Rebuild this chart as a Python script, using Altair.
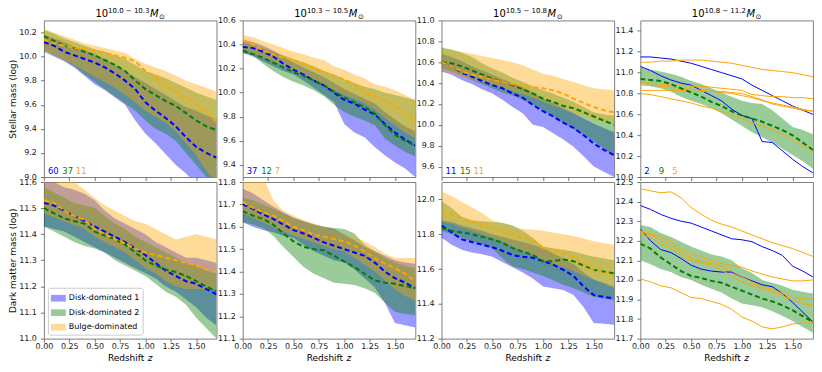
import altair as alt
import pandas as pd

FONT = "DejaVu Sans"
W, H = 173, 157

Z = [0.0, 0.1, 0.2, 0.3, 0.4, 0.5, 0.6, 0.7, 0.8, 0.9, 1.0, 1.1, 1.2, 1.3, 1.4, 1.5, 1.6, 1.7]
GROUPS = ["Disk-dominated 1", "Disk-dominated 2", "Bulge-dominated"]
COLORS = ["#0000ff", "#008000", "#ffa500"]
X_TICKS = [0.0, 0.25, 0.5, 0.75, 1.0, 1.25, 1.5]
MASS_BINS = ["10.0 − 10.3", "10.3 − 10.5", "10.5 − 10.8", "10.8 − 11.2"]
COUNTS = [[60, 37, 11], [37, 12, 7], [11, 15, 11], [2, 9, 5]]
ROW_TITLES = ["Stellar mass (log)", "Dark matter mass (log)"]
Y_DOMAINS = [[9.0, 10.3], [9.3, 10.6], [9.5, 11.0], [10.0, 11.5],
             [11.0, 11.6], [11.1, 11.8], [11.2, 12.1], [11.7, 12.5]]
Y_TICKS = [
    [9.0, 9.2, 9.4, 9.6, 9.8, 10.0, 10.2],
    [9.4, 9.6, 9.8, 10.0, 10.2, 10.4, 10.6],
    [9.6, 9.8, 10.0, 10.2, 10.4, 10.6, 10.8, 11.0],
    [10.0, 10.2, 10.4, 10.6, 10.8, 11.0, 11.2, 11.4],
    [11.0, 11.1, 11.2, 11.3, 11.4, 11.5, 11.6],
    [11.1, 11.2, 11.3, 11.4, 11.5, 11.6, 11.7, 11.8],
    [11.2, 11.4, 11.6, 11.8, 12.0],
    [11.7, 11.8, 11.9, 12.0, 12.1, 12.2, 12.3, 12.4, 12.5],
]

# ---------------- Panel 1: stellar mass, 10^10.0-10.3 ----------------
P1_D1_MED = [10.12, 10.09, 10.04, 10.01, 9.98, 9.95, 9.91, 9.86, 9.80, 9.73, 9.62, 9.55, 9.49, 9.42, 9.33, 9.25, 9.20, 9.16]
P1_D1_LO = [10.04, 10.00, 9.96, 9.91, 9.84, 9.77, 9.72, 9.66, 9.60, 9.47, 9.36, 9.28, 9.19, 9.10, 9.03, 8.94, 8.85, 8.75]
P1_D1_HI = [10.18, 10.15, 10.12, 10.08, 10.05, 10.02, 9.98, 9.93, 9.88, 9.83, 9.78, 9.73, 9.68, 9.63, 9.58, 9.55, 9.51, 9.48]
P1_D2_MED = [10.17, 10.13, 10.09, 10.07, 10.04, 10.01, 9.97, 9.93, 9.88, 9.80, 9.73, 9.68, 9.63, 9.59, 9.53, 9.47, 9.42, 9.39]
P1_D2_LO = [10.06, 10.01, 9.97, 9.92, 9.85, 9.79, 9.73, 9.67, 9.61, 9.55, 9.47, 9.40, 9.36, 9.30, 9.20, 9.10, 9.00, 8.95]
P1_D2_HI = [10.22, 10.19, 10.15, 10.12, 10.09, 10.06, 10.04, 10.01, 9.98, 9.93, 9.88, 9.85, 9.82, 9.78, 9.74, 9.70, 9.67, 9.64]
P1_BD_MED = [10.14, 10.11, 10.09, 10.07, 10.06, 10.05, 10.03, 10.01, 9.99, 9.96, 9.88, 9.83, 9.75, 9.71, 9.66, 9.61, 9.53, 9.46]
P1_BD_LO = [10.05, 10.01, 9.97, 9.93, 9.88, 9.83, 9.79, 9.74, 9.68, 9.62, 9.55, 9.50, 9.45, 9.38, 9.28, 9.18, 9.05, 8.95]
P1_BD_HI = [10.23, 10.20, 10.17, 10.14, 10.11, 10.09, 10.07, 10.05, 10.03, 9.98, 9.94, 9.91, 9.88, 9.84, 9.80, 9.77, 9.74, 9.71]

# ---------------- Panel 2: stellar mass, 10^10.3-10.5 ----------------
P2_D1_MED = [10.38, 10.37, 10.34, 10.30, 10.24, 10.19, 10.15, 10.10, 10.06, 10.00, 9.94, 9.91, 9.86, 9.82, 9.74, 9.67, 9.61, 9.56]
P2_D1_LO = [10.33, 10.30, 10.26, 10.22, 10.18, 10.15, 10.10, 10.04, 9.98, 9.92, 9.74, 9.67, 9.63, 9.55, 9.48, 9.42, 9.37, 9.30]
P2_D1_HI = [10.44, 10.42, 10.39, 10.35, 10.30, 10.25, 10.21, 10.17, 10.13, 10.08, 10.03, 9.99, 9.95, 9.91, 9.84, 9.78, 9.72, 9.68]
P2_D2_MED = [10.35, 10.32, 10.29, 10.25, 10.21, 10.17, 10.14, 10.10, 10.06, 10.01, 9.96, 9.92, 9.88, 9.83, 9.73, 9.65, 9.60, 9.56]
P2_D2_LO = [10.33, 10.31, 10.24, 10.18, 10.13, 10.09, 10.06, 10.02, 9.97, 9.90, 9.84, 9.80, 9.77, 9.73, 9.62, 9.56, 9.51, 9.47]
P2_D2_HI = [10.42, 10.40, 10.37, 10.34, 10.31, 10.28, 10.25, 10.22, 10.18, 10.15, 10.11, 10.08, 10.05, 10.03, 10.00, 9.98, 9.96, 9.94]
P2_BD_MED = [10.44, 10.40, 10.35, 10.32, 10.29, 10.27, 10.24, 10.20, 10.17, 10.14, 10.11, 10.07, 10.00, 9.97, 9.93, 9.89, 9.83, 9.76]
P2_BD_LO = [10.36, 10.33, 10.29, 10.26, 10.22, 10.18, 10.14, 10.10, 10.06, 10.02, 9.98, 9.95, 9.91, 9.86, 9.79, 9.73, 9.67, 9.62]
P2_BD_HI = [10.48, 10.46, 10.43, 10.40, 10.37, 10.34, 10.32, 10.29, 10.27, 10.22, 10.19, 10.15, 10.12, 10.07, 10.05, 10.02, 9.98, 9.94]

# ---------------- Panel 3: stellar mass, 10^10.5-10.8 ----------------
P3_D1_MED = [10.60, 10.56, 10.50, 10.46, 10.42, 10.38, 10.35, 10.30, 10.26, 10.19, 10.13, 10.08, 10.02, 9.97, 9.90, 9.82, 9.76, 9.71]
P3_D1_LO = [10.51, 10.48, 10.43, 10.39, 10.34, 10.30, 10.24, 10.17, 10.11, 10.00, 9.98, 9.92, 9.86, 9.79, 9.70, 9.60, 9.55, 9.50]
P3_D1_HI = [10.68, 10.65, 10.61, 10.56, 10.52, 10.48, 10.44, 10.40, 10.36, 10.31, 10.25, 10.21, 10.16, 10.11, 10.06, 10.01, 9.97, 9.93]
P3_D2_MED = [10.60, 10.59, 10.56, 10.52, 10.48, 10.44, 10.41, 10.38, 10.34, 10.30, 10.25, 10.22, 10.18, 10.16, 10.12, 10.08, 10.04, 10.00]
P3_D2_LO = [10.54, 10.51, 10.47, 10.43, 10.39, 10.35, 10.31, 10.28, 10.24, 10.19, 10.14, 10.08, 10.02, 9.96, 9.90, 9.84, 9.77, 9.70]
P3_D2_HI = [10.74, 10.72, 10.69, 10.65, 10.59, 10.54, 10.50, 10.45, 10.41, 10.37, 10.33, 10.30, 10.26, 10.22, 10.17, 10.12, 10.10, 10.09]
P3_BD_MED = [10.60, 10.56, 10.51, 10.48, 10.46, 10.43, 10.41, 10.39, 10.37, 10.36, 10.35, 10.33, 10.30, 10.25, 10.21, 10.17, 10.14, 10.12]
P3_BD_LO = [10.52, 10.49, 10.46, 10.43, 10.41, 10.38, 10.35, 10.32, 10.29, 10.26, 10.22, 10.18, 10.15, 10.11, 10.08, 10.05, 10.02, 10.00]
P3_BD_HI = [10.73, 10.72, 10.70, 10.68, 10.66, 10.64, 10.62, 10.60, 10.57, 10.53, 10.49, 10.47, 10.44, 10.41, 10.38, 10.35, 10.34, 10.33]

# ---------------- Panel 4: stellar mass, 10^10.8-11.2 ----------------
P4_D2_MED = [10.94, 10.93, 10.92, 10.89, 10.85, 10.81, 10.77, 10.72, 10.68, 10.63, 10.59, 10.56, 10.53, 10.49, 10.45, 10.40, 10.33, 10.26]
P4_D2_LO = [10.89, 10.87, 10.85, 10.82, 10.77, 10.73, 10.70, 10.66, 10.61, 10.55, 10.49, 10.43, 10.38, 10.33, 10.27, 10.21, 10.15, 10.08]
P4_D2_HI = [11.05, 11.03, 11.01, 10.99, 10.96, 10.92, 10.89, 10.85, 10.81, 10.77, 10.73, 10.71, 10.70, 10.64, 10.56, 10.48, 10.45, 10.41]
P4_D1_A = [11.15, 11.15, 11.14, 11.13, 11.11, 11.09, 11.06, 11.03, 11.00, 10.97, 10.94, 10.88, 10.83, 10.78, 10.73, 10.68, 10.64, 10.60]
P4_D1_B = [11.06, 11.02, 10.97, 10.93, 10.90, 10.88, 10.83, 10.78, 10.73, 10.65, 10.59, 10.56, 10.34, 10.33, 10.25, 10.17, 10.10, 10.04]
P4_BD_A = [11.10, 11.10, 11.11, 11.11, 11.12, 11.12, 11.12, 11.11, 11.10, 11.09, 11.07, 11.05, 11.03, 11.02, 11.01, 11.00, 10.98, 10.96]
P4_BD_B = [10.90, 10.90, 10.89, 10.88, 10.88, 10.87, 10.87, 10.86, 10.85, 10.84, 10.83, 10.79, 10.78, 10.77, 10.77, 10.76, 10.76, 10.75]
P4_BD_C = [10.88, 10.88, 10.87, 10.86, 10.85, 10.84, 10.83, 10.82, 10.81, 10.80, 10.78, 10.76, 10.73, 10.71, 10.69, 10.67, 10.65, 10.63]
P4_BD_D = [10.83, 10.83, 10.83, 10.83, 10.83, 10.82, 10.82, 10.82, 10.82, 10.81, 10.80, 10.77, 10.74, 10.70, 10.68, 10.66, 10.64, 10.63]
P4_BD_E = [10.80, 10.79, 10.77, 10.75, 10.73, 10.71, 10.68, 10.66, 10.63, 10.59, 10.56, 10.52, 10.49, 10.45, 10.41, 10.36, 10.30, 10.25]

# ---------------- Panel 5: dark matter mass, 10^10.0-10.3 ----------------
P5_D1_MED = [11.52, 11.51, 11.49, 11.47, 11.45, 11.43, 11.41, 11.39, 11.37, 11.345, 11.32, 11.29, 11.26, 11.24, 11.22, 11.21, 11.19, 11.17]
P5_D1_LO = [11.43, 11.42, 11.41, 11.39, 11.37, 11.35, 11.33, 11.31, 11.29, 11.27, 11.25, 11.23, 11.20, 11.18, 11.15, 11.12, 11.08, 11.05]
P5_D1_HI = [11.61, 11.60, 11.58, 11.57, 11.555, 11.53, 11.49, 11.46, 11.44, 11.42, 11.40, 11.37, 11.35, 11.33, 11.31, 11.31, 11.30, 11.29]
P5_D2_MED = [11.50, 11.48, 11.46, 11.45, 11.44, 11.41, 11.395, 11.38, 11.36, 11.33, 11.30, 11.28, 11.265, 11.255, 11.24, 11.22, 11.20, 11.18]
P5_D2_LO = [11.43, 11.41, 11.39, 11.37, 11.355, 11.345, 11.33, 11.30, 11.28, 11.26, 11.24, 11.21, 11.18, 11.16, 11.13, 11.08, 11.04, 11.00]
P5_D2_HI = [11.58, 11.56, 11.54, 11.52, 11.51, 11.50, 11.47, 11.44, 11.42, 11.39, 11.37, 11.35, 11.33, 11.31, 11.29, 11.28, 11.26, 11.25]
P5_BD_MED = [11.53, 11.52, 11.49, 11.47, 11.455, 11.42, 11.40, 11.38, 11.365, 11.345, 11.33, 11.32, 11.31, 11.30, 11.29, 11.28, 11.265, 11.255]
P5_BD_LO = [11.48, 11.465, 11.45, 11.435, 11.42, 11.39, 11.37, 11.35, 11.33, 11.30, 11.27, 11.25, 11.22, 11.20, 11.19, 11.19, 11.19, 11.19]
P5_BD_HI = [11.63, 11.62, 11.61, 11.60, 11.57, 11.54, 11.51, 11.49, 11.47, 11.45, 11.44, 11.42, 11.40, 11.38, 11.39, 11.40, 11.39, 11.38]

# ---------------- Panel 6: dark matter mass, 10^10.3-10.5 ----------------
P6_D1_MED = [11.70, 11.68, 11.655, 11.635, 11.61, 11.585, 11.57, 11.55, 11.53, 11.515, 11.50, 11.485, 11.47, 11.44, 11.40, 11.37, 11.35, 11.325]
P6_D1_LO = [11.62, 11.60, 11.585, 11.575, 11.56, 11.55, 11.52, 11.49, 11.47, 11.45, 11.44, 11.41, 11.37, 11.33, 11.26, 11.17, 11.16, 11.15]
P6_D1_HI = [11.77, 11.75, 11.72, 11.69, 11.665, 11.64, 11.625, 11.61, 11.60, 11.59, 11.565, 11.54, 11.51, 11.49, 11.47, 11.45, 11.44, 11.435]
P6_D2_MED = [11.67, 11.65, 11.635, 11.61, 11.57, 11.535, 11.51, 11.50, 11.495, 11.47, 11.445, 11.42, 11.39, 11.36, 11.35, 11.345, 11.335, 11.325]
P6_D2_LO = [11.62, 11.61, 11.595, 11.56, 11.51, 11.465, 11.42, 11.39, 11.37, 11.35, 11.345, 11.34, 11.325, 11.305, 11.26, 11.22, 11.21, 11.205]
P6_D2_HI = [11.73, 11.72, 11.70, 11.68, 11.66, 11.64, 11.625, 11.61, 11.60, 11.595, 11.59, 11.57, 11.52, 11.49, 11.46, 11.44, 11.425, 11.415]
P6_BD_MED = [11.71, 11.685, 11.665, 11.65, 11.625, 11.60, 11.585, 11.565, 11.555, 11.545, 11.535, 11.515, 11.49, 11.46, 11.435, 11.415, 11.39, 11.355]
P6_BD_LO = [11.66, 11.64, 11.62, 11.60, 11.58, 11.56, 11.545, 11.53, 11.515, 11.50, 11.49, 11.46, 11.43, 11.40, 11.36, 11.32, 11.29, 11.27]
P6_BD_HI = [11.82, 11.82, 11.82, 11.72, 11.67, 11.65, 11.63, 11.615, 11.60, 11.585, 11.57, 11.555, 11.535, 11.51, 11.48, 11.46, 11.46, 11.46]

# ---------------- Panel 7: dark matter mass, 10^10.5-10.8 ----------------
P7_D1_MED = [11.85, 11.81, 11.77, 11.755, 11.74, 11.725, 11.705, 11.68, 11.67, 11.665, 11.645, 11.625, 11.595, 11.56, 11.50, 11.45, 11.44, 11.43]
P7_D1_LO = [11.78, 11.74, 11.71, 11.695, 11.685, 11.67, 11.64, 11.61, 11.58, 11.545, 11.50, 11.49, 11.48, 11.45, 11.38, 11.29, 11.285, 11.28]
P7_D1_HI = [11.88, 11.87, 11.85, 11.835, 11.82, 11.80, 11.785, 11.77, 11.755, 11.74, 11.72, 11.69, 11.66, 11.63, 11.58, 11.54, 11.52, 11.50]
P7_D2_MED = [11.835, 11.82, 11.81, 11.80, 11.785, 11.77, 11.75, 11.72, 11.70, 11.68, 11.645, 11.645, 11.655, 11.645, 11.62, 11.595, 11.585, 11.575]
P7_D2_LO = [11.82, 11.80, 11.78, 11.76, 11.74, 11.72, 11.66, 11.615, 11.60, 11.58, 11.56, 11.535, 11.51, 11.49, 11.465, 11.44, 11.43, 11.42]
P7_D2_HI = [11.99, 11.95, 11.90, 11.88, 11.875, 11.87, 11.865, 11.85, 11.82, 11.78, 11.73, 11.72, 11.71, 11.70, 11.685, 11.67, 11.66, 11.65]
P7_BD_MED = [11.93, 11.915, 11.89, 11.87, 11.85, 11.835, 11.815, 11.795, 11.78, 11.76, 11.72, 11.705, 11.69, 11.67, 11.63, 11.595, 11.58, 11.565]
P7_BD_LO = [11.87, 11.86, 11.84, 11.82, 11.80, 11.78, 11.76, 11.73, 11.70, 11.68, 11.65, 11.63, 11.61, 11.59, 11.56, 11.54, 11.515, 11.49]
P7_BD_HI = [12.045, 12.02, 11.985, 11.955, 11.92, 11.88, 11.865, 11.845, 11.83, 11.825, 11.82, 11.81, 11.80, 11.79, 11.775, 11.76, 11.75, 11.74]

# ---------------- Panel 8: dark matter mass, 10^10.8-11.2 ----------------
P8_D2_MED = [12.185, 12.16, 12.115, 12.08, 12.045, 12.02, 12.01, 11.995, 11.985, 11.965, 11.945, 11.925, 11.905, 11.89, 11.87, 11.845, 11.815, 11.785]
P8_D2_LO = [12.10, 12.08, 12.055, 12.04, 12.015, 12.0, 11.975, 11.955, 11.935, 11.905, 11.88, 11.87, 11.86, 11.84, 11.815, 11.79, 11.76, 11.73]
P8_D2_HI = [12.28, 12.27, 12.24, 12.22, 12.195, 12.17, 12.15, 12.13, 12.12, 12.10, 12.06, 12.035, 12.0, 11.985, 11.97, 11.95, 11.94, 11.93]
P8_D1_A = [12.38, 12.36, 12.335, 12.315, 12.30, 12.29, 12.27, 12.25, 12.23, 12.21, 12.205, 12.195, 12.17, 12.15, 12.125, 12.07, 12.045, 12.015]
P8_D1_B = [12.26, 12.20, 12.155, 12.14, 12.11, 12.075, 12.055, 12.045, 12.04, 12.04, 12.015, 11.995, 11.975, 11.965, 11.93, 11.885, 11.835, 11.785]
P8_BD_A = [12.465, 12.455, 12.445, 12.45, 12.42, 12.37, 12.335, 12.305, 12.285, 12.27, 12.25, 12.23, 12.21, 12.19, 12.175, 12.16, 12.14, 12.12]
P8_BD_B = [12.25, 12.235, 12.22, 12.195, 12.16, 12.135, 12.115, 12.10, 12.085, 12.075, 12.065, 12.045, 12.03, 12.015, 12.005, 11.995, 11.995, 12.0]
P8_BD_C = [12.245, 12.23, 12.205, 12.18, 12.145, 12.11, 12.095, 12.085, 12.07, 12.045, 12.015, 11.99, 11.965, 11.95, 11.93, 11.91, 11.905, 11.90]
P8_BD_D = [12.235, 12.215, 12.185, 12.16, 12.125, 12.10, 12.085, 12.075, 12.05, 12.02, 11.99, 11.97, 11.955, 11.94, 11.92, 11.895, 11.88, 11.87]
P8_BD_E = [12.005, 11.99, 11.97, 11.96, 11.935, 11.91, 11.905, 11.89, 11.875, 11.85, 11.81, 11.79, 11.76, 11.75, 11.76, 11.775, 11.78, 11.78]

# (group index, lower, upper) bands, (group index, median) dashed lines, (group index, track) thin lines
PANELS = [
    dict(bands=[(0, P1_D1_LO, P1_D1_HI), (1, P1_D2_LO, P1_D2_HI), (2, P1_BD_LO, P1_BD_HI)],
         meds=[(0, P1_D1_MED), (1, P1_D2_MED), (2, P1_BD_MED)], tracks=[]),
    dict(bands=[(0, P2_D1_LO, P2_D1_HI), (1, P2_D2_LO, P2_D2_HI), (2, P2_BD_LO, P2_BD_HI)],
         meds=[(0, P2_D1_MED), (1, P2_D2_MED), (2, P2_BD_MED)], tracks=[]),
    dict(bands=[(0, P3_D1_LO, P3_D1_HI), (1, P3_D2_LO, P3_D2_HI), (2, P3_BD_LO, P3_BD_HI)],
         meds=[(0, P3_D1_MED), (1, P3_D2_MED), (2, P3_BD_MED)], tracks=[]),
    dict(bands=[(1, P4_D2_LO, P4_D2_HI)], meds=[(1, P4_D2_MED)],
         tracks=[(0, P4_D1_A), (0, P4_D1_B), (2, P4_BD_A), (2, P4_BD_B), (2, P4_BD_C), (2, P4_BD_D), (2, P4_BD_E)]),
    dict(bands=[(0, P5_D1_LO, P5_D1_HI), (1, P5_D2_LO, P5_D2_HI), (2, P5_BD_LO, P5_BD_HI)],
         meds=[(0, P5_D1_MED), (1, P5_D2_MED), (2, P5_BD_MED)], tracks=[]),
    dict(bands=[(0, P6_D1_LO, P6_D1_HI), (1, P6_D2_LO, P6_D2_HI), (2, P6_BD_LO, P6_BD_HI)],
         meds=[(0, P6_D1_MED), (1, P6_D2_MED), (2, P6_BD_MED)], tracks=[]),
    dict(bands=[(0, P7_D1_LO, P7_D1_HI), (1, P7_D2_LO, P7_D2_HI), (2, P7_BD_LO, P7_BD_HI)],
         meds=[(0, P7_D1_MED), (1, P7_D2_MED), (2, P7_BD_MED)], tracks=[]),
    dict(bands=[(1, P8_D2_LO, P8_D2_HI)], meds=[(1, P8_D2_MED)],
         tracks=[(0, P8_D1_A), (0, P8_D1_B), (2, P8_BD_A), (2, P8_BD_B), (2, P8_BD_C), (2, P8_BD_D), (2, P8_BD_E)]),
]

COUNT_X = [4, 18.5, 32]


def text_layer(txt, x, y, size, color="black", style="normal", align="left"):
    return alt.Chart(alt.Data(values=[{"t": txt}])).mark_text(
        align=align, baseline="alphabetic", font=FONT, fontSize=size,
        fontStyle=style, color=color
    ).encode(x=alt.value(x), y=alt.value(y), text="t:N")


def make_panel(idx):
    row, col = divmod(idx, 4)
    spec = PANELS[idx]
    xs = alt.Scale(domain=[0, 1.7], nice=False, zero=False)
    ys = alt.Scale(domain=Y_DOMAINS[idx], nice=False, zero=False)
    xax = alt.Axis(values=X_TICKS, format=".2f", labels=(row == 1), title=None, labelFlush=False)
    yax = alt.Axis(values=Y_TICKS[idx], format=".1f",
                   title=ROW_TITLES[row] if col == 0 else None)
    X = alt.X("z:Q", scale=xs, axis=xax)
    cscale = alt.Scale(domain=GROUPS, range=COLORS)
    if idx == 4:
        leg = alt.Legend(title=None, orient="bottom-left", offset=4, padding=3,
                         strokeColor="#cccccc", cornerRadius=2, fillColor="white",
                         symbolType="M-1,-0.45L1,-0.45L1,0.45L-1,0.45Z", symbolSize=225,
                         symbolOpacity=0.4, symbolStrokeWidth=0,
                         labelFont=FONT, labelFontSize=8, labelColor="black",
                         labelOffset=3, rowPadding=2.5, labelLimit=200)
    else:
        leg = None
    layers = []
    for g, lo, hi in spec["bands"]:
        df = pd.DataFrame({"z": Z, "lo": lo, "hi": hi, "group": GROUPS[g]})
        layers.append(alt.Chart(df).mark_area(opacity=0.4, clip=True).encode(
            x=X, y=alt.Y("lo:Q", scale=ys, axis=yax), y2="hi:Q",
            color=alt.Color("group:N", scale=cscale, legend=leg)))
    for g, vals in spec["tracks"]:
        df = pd.DataFrame({"z": Z, "v": vals})
        layers.append(alt.Chart(df).mark_line(clip=True, strokeWidth=1, color=COLORS[g]).encode(
            x=X, y=alt.Y("v:Q", scale=ys, axis=yax)))
    for g, vals in spec["meds"]:
        df = pd.DataFrame({"z": Z, "v": vals})
        layers.append(alt.Chart(df).mark_line(clip=True, strokeWidth=2, strokeDash=[5, 3],
                                              color=COLORS[g]).encode(
            x=X, y=alt.Y("v:Q", scale=ys, axis=yax)))
    if row == 0:
        # panel title 10^{a-b} M_sun
        base_fs, sup_fs = 10, 7
        w_base = 2 * 0.636 * base_fs
        sup = MASS_BINS[col]
        w_sup = (6 * 0.636 + 2 * 0.318 + 2 * 0.318 + 0.838) * sup_fs
        w_m = 0.863 * base_fs
        w_sun = 0.838 * sup_fs
        x0 = (W - (w_base + w_sup + w_m + w_sun + 1)) / 2
        layers.append(text_layer("10", x0, -3, base_fs))
        layers.append(text_layer(sup, x0 + w_base, -7, sup_fs))
        layers.append(text_layer("M", x0 + w_base + w_sup + 0.5, -3, base_fs, style="italic"))
        layers.append(text_layer("⊙", x0 + w_base + w_sup + w_m + 1, -1.5, sup_fs))
        for g in range(3):
            layers.append(text_layer(str(COUNTS[col][g]), COUNT_X[g], H - 3.5, 8.5, COLORS[g]))
    else:
        tfs = 9
        w1 = 4.44 * tfs
        w2 = 0.525 * tfs
        xt = (W - w1 - w2) / 2
        layers.append(text_layer("Redshift", xt, H + 22, tfs))
        layers.append(text_layer("z", xt + w1, H + 22, tfs, style="italic"))
    return alt.layer(*layers).properties(width=W, height=H)


chart = (
    alt.concat(*[make_panel(i) for i in range(8)], columns=4,
               spacing={"row": 5, "column": 26.3})
    .resolve_scale(color="independent")
    .resolve_legend(color="independent")
    .properties(bounds="flush", padding={"left": 0, "top": -2, "right": 0, "bottom": 0})
    .configure_view(stroke="#808080", strokeWidth=1)
    .configure_axis(domain=False, grid=False, labelFont=FONT, labelFontSize=8,
                    labelColor="#1a1a1a", tickColor="#555555", tickSize=3.5, tickWidth=0.8,
                    titleFont=FONT, titleFontSize=9, titleFontWeight="normal",
                    titleColor="#111111", titlePadding=1)
    .configure_axisY(labelPadding=4)
    .configure_axisX(labelPadding=0.5)
)

chart.save("out.html", embed_options={"renderer": "svg", "actions": False})
